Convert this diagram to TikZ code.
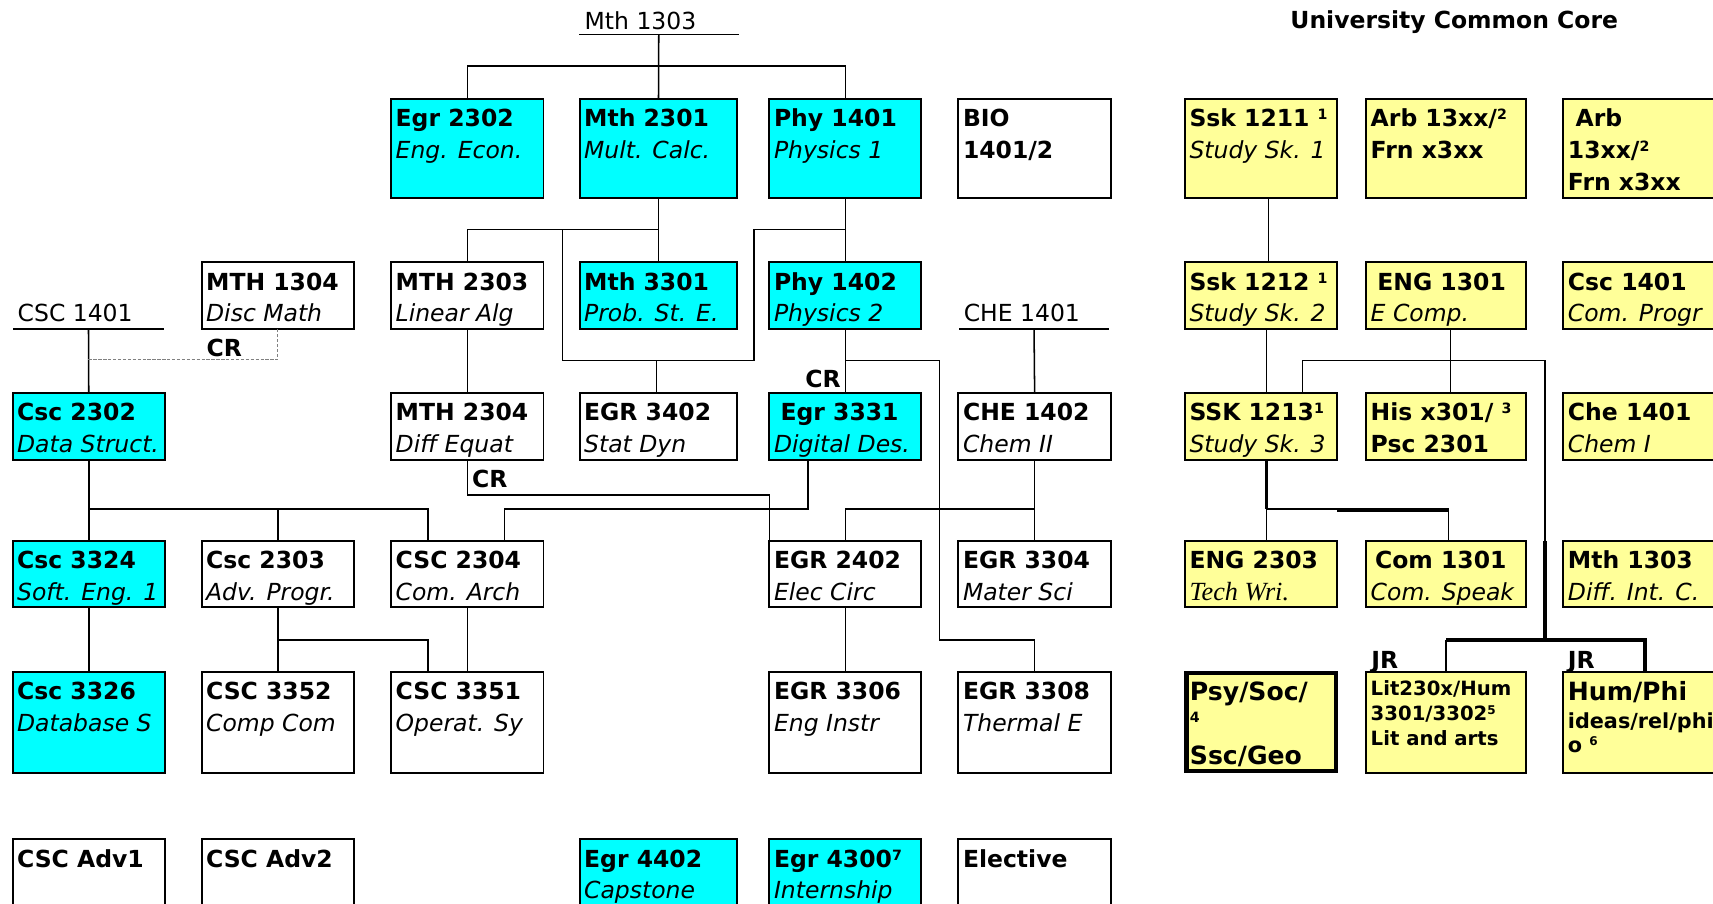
\documentclass[tikz,border=0pt]{standalone}
\usepackage{fontspec}
\setmainfont{DejaVu Sans}
\newfontfamily\timesf{Liberation Serif}
\definecolor{cy}{RGB}{0,255,255}
\definecolor{ye}{RGB}{255,255,153}
\newcommand\cfont{\fontsize{21.5pt}{29pt}\selectfont}
\newcommand\sps[1]{\raisebox{6.5pt}{\fontsize{13pt}{13pt}\selectfont\bfseries #1}}
\newcommand\crs[8][25.5]{%
  \node[cbox,#7,minimum width=#5pt,minimum height=#6pt,anchor=north west] (#2) at (#3,#4) {};
  \node[ctext] at ([xshift=4pt]#2.north west) {\parbox[t]{220pt}{\raggedright\rule{0pt}{#1pt}#8}};
}
\begin{document}
\begin{tikzpicture}[x=1pt,y=-1pt,
  cbox/.style={draw, line width=1.8pt, rectangle, inner sep=0pt, outer sep=0pt},
  ctext/.style={anchor=north west, inner sep=0pt, font=\cfont},
  conn/.style={line width=1.4pt},
  thk/.style={line width=3.6pt},
  med/.style={line width=2.2pt},
  crdash/.style={line width=1pt, gray, dash pattern=on 3pt off 1.5pt},
  hdr/.style={anchor=south west, minimum height=20pt, inner sep=0pt, outer sep=0pt},
  tb/.style={anchor=base west, inner sep=0pt},
  lbl/.style={anchor=base west, inner sep=0pt, font=\cfont\bfseries},
]
\useasboundingbox (0,0) rectangle (1568,827);
\clip (0,0) rectangle (1568,827);
\fill[white] (0,0) rectangle (1568,827);

% ---------- headers ----------
\node[hdr, minimum width=146pt] (m1303h) at (530,31.4) {};
\node[tb, font=\cfont] at ([xshift=5pt,yshift=4.6pt]m1303h.south west) {Mth 1303};
\node[hdr, minimum width=138pt] (csc1401h) at (12,301) {};
\node[tb, font=\cfont] at ([xshift=4pt,yshift=6.5pt]csc1401h.south west) {CSC 1401};
\node[hdr, minimum width=137pt] (che1401h) at (878,301) {};
\node[tb, font=\cfont] at ([xshift=4pt,yshift=6.5pt]che1401h.south west) {CHE 1401};
\node[lbl] (ucc) at (1181,26) {University Common Core};

% ---------- row 1 ----------
\crs{egr2302}{358}{90.3}{139.5}{90.7}{fill=cy}{\textbf{Egr 2302}\\\textit{Eng. Econ.}}
\crs{mth2301}{530.5}{90.3}{144.5}{90.7}{fill=cy}{\textbf{Mth 2301}\\\textit{Mult. Calc.}}
\crs{phy1401}{704.3}{90.3}{139}{90.7}{fill=cy}{\textbf{Phy 1401}\\\textit{Physics 1}}
\crs{bio}{877.3}{90.3}{139.5}{90.7}{fill=white}{\textbf{BIO}\\\textbf{1401/2}}
\crs{ssk1211}{1084.6}{90.3}{139.4}{90.7}{fill=ye}{\textbf{Ssk 1211 \sps{1}}\\\textit{Study Sk. 1}}
\crs{arbA}{1250.5}{90.3}{146.5}{90.7}{fill=ye}{\textbf{Arb 13xx/\sps{2}}\\\textbf{Frn x3xx}}
\crs{arbB}{1431}{90.3}{150}{90.7}{fill=ye}{\textbf{\hspace*{7pt}Arb}\\\textbf{13xx/\sps{2}}\\\textbf{Frn x3xx}}

% ---------- row 2 ----------
\crs{mth1304}{184.5}{240}{139.5}{61}{fill=white}{\textbf{MTH 1304}\\\textit{Disc Math}}
\crs{mth2303}{358}{240}{139.5}{61}{fill=white}{\textbf{MTH 2303}\\\textit{Linear Alg}}
\crs{mth3301}{530.5}{240}{144.5}{61}{fill=cy}{\textbf{Mth 3301}\\\textit{Prob. St. E.}}
\crs{phy1402}{704.3}{240}{139}{61}{fill=cy}{\textbf{Phy 1402}\\\textit{Physics 2}}
\crs{ssk1212}{1084.6}{240}{139.4}{61}{fill=ye}{\textbf{Ssk 1212 \sps{1}}\\\textit{Study Sk. 2}}
\crs{eng1301}{1250.5}{240}{146.5}{61}{fill=ye}{\textbf{\hspace*{6pt}ENG 1301}\\\textit{E Comp.}}
\crs{csc1401y}{1431}{240}{150}{61}{fill=ye}{\textbf{Csc 1401}\\\textit{Com. Progr}}

% ---------- row 3 ----------
\crs{csc2302}{11.5}{359.4}{139.5}{61.6}{fill=cy}{\textbf{Csc 2302}\\\textit{Data Struct.}}
\crs{mth2304}{358}{359.4}{139.5}{61.6}{fill=white}{\textbf{MTH 2304}\\\textit{Diff Equat}}
\crs{egr3402}{530.5}{359.4}{144.5}{61.6}{fill=white}{\textbf{EGR 3402}\\\textit{Stat Dyn}}
\crs{egr3331}{704.3}{359.4}{139}{61.6}{fill=cy}{\textbf{\hspace*{6pt}Egr 3331}\\\textit{Digital Des.}}
\crs{che1402}{877.3}{359.4}{139.5}{61.6}{fill=white}{\textbf{CHE 1402}\\\textit{Chem II}}
\crs{ssk1213}{1084.6}{359.4}{139.4}{61.6}{fill=ye}{\textbf{SSK 1213\sps{1}}\\\textit{Study Sk. 3}}
\crs{his}{1250.5}{359.4}{146.5}{61.6}{fill=ye}{\textbf{His x301/ \sps{3}}\\\textbf{Psc 2301}}
\crs{che1401y}{1431}{359.4}{150}{61.6}{fill=ye}{\textbf{Che 1401}\\\textit{Chem I}}

% ---------- row 4 ----------
\crs{csc3324}{11.5}{495}{139.5}{61}{fill=cy}{\textbf{Csc 3324}\\\textit{Soft. Eng. 1}}
\crs{csc2303}{184.5}{495}{139.5}{61}{fill=white}{\textbf{Csc 2303}\\\textit{Adv. Progr.}}
\crs{csc2304}{358}{495}{139.5}{61}{fill=white}{\textbf{CSC 2304}\\\textit{Com. Arch}}
\crs{egr2402}{704.3}{495}{139}{61}{fill=white}{\textbf{EGR 2402}\\\textit{Elec Circ}}
\crs{egr3304}{877.3}{495}{139.5}{61}{fill=white}{\textbf{EGR 3304}\\\textit{Mater Sci}}
\crs{eng2303}{1084.6}{495}{139.4}{61}{fill=ye}{\textbf{ENG 2303}\\{\timesf\itshape\fontsize{24pt}{29pt}\selectfont Tech Wri.}}
\crs{com1301}{1250.5}{495}{146.5}{61}{fill=ye}{\textbf{\hspace*{4pt}Com 1301}\\\textit{Com. Speak}}
\crs{mth1303y}{1431}{495}{150}{61}{fill=ye}{\textbf{Mth 1303}\\\textit{Diff. Int. C.}}

% ---------- row 5 ----------
\crs{csc3326}{11.5}{614.8}{139.5}{92.5}{fill=cy}{\textbf{Csc 3326}\\\textit{Database S}}
\crs{csc3352}{184.5}{614.8}{139.5}{92.5}{fill=white}{\textbf{CSC 3352}\\\textit{Comp Com}}
\crs{csc3351}{358}{614.8}{139.5}{92.5}{fill=white}{\textbf{CSC 3351}\\\textit{Operat. Sy}}
\crs{egr3306}{704.3}{614.8}{139}{92.5}{fill=white}{\textbf{EGR 3306}\\\textit{Eng Instr}}
\crs{egr3308}{877.3}{614.8}{139.5}{92.5}{fill=white}{\textbf{EGR 3308}\\\textit{Thermal E}}
\crs{psy}{1086}{616}{137}{90}{fill=ye, line width=4pt}{}
\crs{lit}{1250.5}{614.8}{146.5}{92.5}{fill=ye}{}
\crs{hum}{1431}{614.8}{150}{92.5}{fill=ye}{}
\node[tb, font=\fontsize{23pt}{23pt}\selectfont\bfseries] at ([xshift=3pt,yshift=-25pt]psy.north west) {Psy/Soc/};
\node[tb, font=\fontsize{13pt}{13pt}\selectfont\bfseries] at ([xshift=3pt,yshift=-45pt]psy.north west) {4};
\node[tb, font=\fontsize{23pt}{23pt}\selectfont\bfseries] at ([xshift=3pt,yshift=-84pt]psy.north west) {Ssc/Geo};
\node[tb, font=\fontsize{18pt}{18pt}\selectfont\bfseries] at ([xshift=4pt,yshift=-21.5pt]lit.north west) {Lit230x/Hum};
\node[tb, font=\fontsize{18pt}{18pt}\selectfont\bfseries] at ([xshift=4pt,yshift=-45pt]lit.north west) {3301/3302\raisebox{6pt}{\fontsize{11pt}{11pt}\selectfont 5}};
\node[tb, font=\fontsize{18pt}{18pt}\selectfont\bfseries] at ([xshift=4pt,yshift=-68pt]lit.north west) {Lit and arts};
\node[tb, font=\fontsize{23pt}{23pt}\selectfont\bfseries] at ([xshift=4pt,yshift=-26.5pt]hum.north west) {Hum/Phi};
\node[tb, font=\fontsize{19pt}{19pt}\selectfont\bfseries] at ([xshift=4pt,yshift=-52pt]hum.north west) {ideas/rel/phil};
\node[tb, font=\fontsize{19pt}{19pt}\selectfont\bfseries] at ([xshift=4pt,yshift=-74pt]hum.north west) {o \raisebox{6pt}{\fontsize{11pt}{11pt}\selectfont 6}};

% ---------- row 6 ----------
\crs{adv1}{11.5}{768}{139.5}{80}{fill=white}{\textbf{CSC Adv1}}
\crs{adv2}{184.5}{768}{139.5}{80}{fill=white}{\textbf{CSC Adv2}}
\crs{egr4402}{530.5}{768}{144.5}{80}{fill=cy}{\textbf{Egr 4402}\\\textit{Capstone}}
\crs{egr4300}{704.3}{768}{139}{80}{fill=cy}{\textbf{Egr 4300\sps{7}}\\\textit{Internship}}
\crs{elective}{877.3}{768}{139.5}{80}{fill=white}{\textbf{Elective}}

% ---------- connectors: left part ----------
\draw[conn] (m1303h.south west) -- (m1303h.south east);
\draw[conn] (m1303h.south) -- (mth2301.north);
\draw[conn] (egr2302.north) -- ++(0,-30) -| (phy1401.north);

\coordinate (jm) at ([yshift=-29pt]mth2301.south);
\draw[conn] (mth2301.south) -- (mth3301.north);
\draw[conn] (jm) -| (mth2303.north);
\coordinate (p1) at (515,210);
\coordinate (p2) at (690,330);
\draw[conn] (p1) |- (p2) -- (p2 |- jm) -- (phy1401.south |- jm);
\draw[conn] (phy1401.south) -- (phy1402.north);
\draw[conn] ([xshift=-2pt]egr3402.north) -- ([xshift=-2pt]egr3402.north |- p2);

\draw[conn] (mth2303.south) -- (mth2304.north);
\draw[conn] (mth2304.south) -- ++(0,32) -| (egr2402.north west);
\node[lbl] (cr3) at (432,446) {CR};

\draw[conn] ([xshift=-34pt]egr3331.south) -- ++(0,45) -| ([xshift=34pt]csc2304.north);

\draw[conn] (phy1402.south) -- (egr3331.north);
\node[lbl] (cr2) at (737,355) {CR};
\coordinate (q1) at (860,330);
\coordinate (q2) at (860,586);
\draw[conn] (phy1402.south |- q1) -| (q2) -| (egr3308.north);

\draw[conn] (che1401h.south west) -- (che1401h.south east);
\draw[conn] (che1401h.south) -- (che1402.north);
\draw[conn] (che1402.south) -- (egr3304.north);
\draw[conn] ([yshift=-45pt]che1402.south) -| (egr2402.north);
\draw[conn] (egr2402.south) -- (egr3306.north);

\draw[conn] (csc1401h.south west) -- (csc1401h.south east);
\draw[conn] (csc1401h.south) -- (csc2302.north);
\draw[crdash] ([yshift=-28pt]csc1401h.south) -| (mth1304.south);
\node[lbl] (cr1) at (189,326) {CR};

\coordinate (jc) at ([yshift=-45pt]csc2302.south);
\draw[conn] (csc2302.south) -- (csc3324.north);
\draw[conn] (jc) -| ([xshift=-36pt]csc2304.north);
\draw[conn] (csc2303.north) -- (csc2303.north |- jc);
\draw[conn] (csc3324.south) -- (csc3326.north);
\draw[conn] (csc2303.south) -- (csc3352.north);
\draw[conn] ([yshift=-30pt]csc2303.south) -| ([xshift=-36pt]csc3351.north);
\draw[conn] (csc2304.south) -- (csc3351.north);

% ---------- connectors: common core ----------
\draw[conn] ([xshift=7pt]ssk1211.south) -- ([xshift=7pt]ssk1212.north);
\draw[conn] ([xshift=5pt]ssk1212.south) -- ([xshift=5pt]ssk1213.north);
\draw[conn] ([xshift=4pt]eng1301.south) -- ([xshift=4pt]his.north);
\coordinate (r1) at (1414,330);
\coordinate (r2) at (1414,586);
\draw[conn] ([xshift=38pt]ssk1213.north) |- (r1) -- (r1 |- com1301.north);
\draw[thk] (r1 |- com1301.north) -- (r2);
\draw[thk] (lit.north |- r2) -- (hum.north |- r2) -- (hum.north);
\draw[med] (lit.north |- r2) -- (lit.north);
\node[lbl] (jr1) at (1255,612) {JR};
\node[lbl] (jr2) at (1435,612) {JR};

\coordinate (s1) at ([xshift=5pt,yshift=-45pt]ssk1213.south);
\coordinate (s3) at (1224,467);
\coordinate (s2) at (1326,467);
\draw[thk] ([xshift=5pt]ssk1213.south) -- (s1);
\draw[conn] (s1) -- (s1 |- eng2303.north);
\draw[conn] (s1) -- (s1 -| s3);
\draw[thk] (s3) -- (s2);
\draw[conn] (s2) -- (s2 |- com1301.north);
\end{tikzpicture}
\end{document}
